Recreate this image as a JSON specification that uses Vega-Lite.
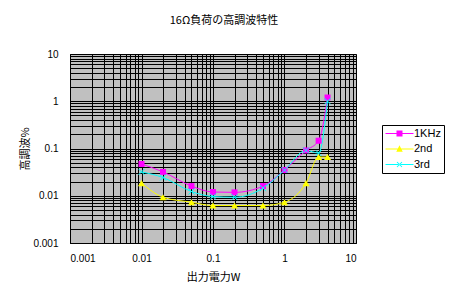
{
  "$schema": "https://vega.github.io/schema/vega-lite/v6.json",
  "width": 286,
  "height": 189,
  "autosize": {"type": "none"},
  "padding": {"left": 70, "top": 54, "right": 99, "bottom": 61},
  "background": "white",
  "config": {
    "view": {"fill": "#C0C0C0", "stroke": "#808080", "strokeWidth": 1},
    "font": "Liberation Sans",
    "axis": {
      "labelFont": "Liberation Sans",
      "labelFontSize": 10,
      "labelColor": "black",
      "titleFont": "Noto Sans CJK JP",
      "titleFontSize": 11,
      "titleFontWeight": "normal",
      "titleColor": "black",
      "domainColor": "black",
      "domainWidth": 1,
      "gridColor": "black",
      "gridOpacity": 1,
      "gridWidth": 1,
      "ticks": false,
      "labelOverlap": false
    },
    "legend": {
      "padding": 3,
      "strokeColor": "black",
      "fillColor": "white",
      "symbolSize": 100,
      "symbolStrokeWidth": 0,
      "symbolOpacity": 1,
      "symbolOffset": 9,
      "labelOffset": 9,
      "labelFont": "Liberation Sans",
      "labelFontSize": 11,
      "labelColor": "black",
      "rowPadding": 3.5
    }
  },
  "title": {
    "text": "16Ω負荷の高調波特性",
    "font": "Noto Sans CJK JP",
    "fontSize": 11,
    "fontWeight": "normal",
    "color": "black",
    "anchor": "middle",
    "offset": 23,
    "dx": 11
  },
  "data": {
    "values": [
      {"series": "1KHz", "x": 0.01, "y": 0.047},
      {"series": "1KHz", "x": 0.02, "y": 0.032},
      {"series": "1KHz", "x": 0.05, "y": 0.016},
      {"series": "1KHz", "x": 0.1, "y": 0.012},
      {"series": "1KHz", "x": 0.2, "y": 0.0118},
      {"series": "1KHz", "x": 0.5, "y": 0.016},
      {"series": "1KHz", "x": 1, "y": 0.035},
      {"series": "1KHz", "x": 2, "y": 0.091},
      {"series": "1KHz", "x": 3, "y": 0.146},
      {"series": "1KHz", "x": 4, "y": 1.2},
      {"series": "2nd", "x": 0.01, "y": 0.0185},
      {"series": "2nd", "x": 0.02, "y": 0.0093},
      {"series": "2nd", "x": 0.05, "y": 0.0073},
      {"series": "2nd", "x": 0.1, "y": 0.0062},
      {"series": "2nd", "x": 0.2, "y": 0.0062},
      {"series": "2nd", "x": 0.5, "y": 0.0062},
      {"series": "2nd", "x": 1, "y": 0.0073},
      {"series": "2nd", "x": 2, "y": 0.0185},
      {"series": "2nd", "x": 3, "y": 0.066},
      {"series": "2nd", "x": 4, "y": 0.066},
      {"series": "3rd", "x": 0.01, "y": 0.032},
      {"series": "3rd", "x": 0.02, "y": 0.0243},
      {"series": "3rd", "x": 0.05, "y": 0.0123},
      {"series": "3rd", "x": 0.1, "y": 0.0096},
      {"series": "3rd", "x": 0.2, "y": 0.0093},
      {"series": "3rd", "x": 0.5, "y": 0.0145},
      {"series": "3rd", "x": 1, "y": 0.035},
      {"series": "3rd", "x": 2, "y": 0.091},
      {"series": "3rd", "x": 3, "y": 0.08},
      {"series": "3rd", "x": 4, "y": 1.0}
    ]
  },
  "encoding": {
    "x": {
      "field": "x",
      "type": "quantitative",
      "scale": {"type": "log", "domain": [0.001, 10], "nice": false},
      "axis": {
        "title": "出力電力W",
        "values": [0.001,0.002,0.003,0.004,0.005,0.006,0.007,0.008,0.009,0.01,0.02,0.03,0.04,0.05,0.06,0.07,0.08,0.09,0.1,0.2,0.3,0.4,0.5,0.6,0.7,0.8,0.9,1,2,3,4,5,6,7,8,9,10],
        "format": "~g",
        "labelExpr": "indexof([0.001,0.01,0.1,1,10], datum.value) >= 0 ? datum.label : ''",
        "labelPadding": 10,
        "titlePadding": 8
      }
    },
    "y": {
      "field": "y",
      "type": "quantitative",
      "scale": {"type": "log", "domain": [0.001, 10], "nice": false},
      "axis": {
        "title": "高調波%",
        "values": [0.001,0.002,0.003,0.004,0.005,0.006,0.007,0.008,0.009,0.01,0.02,0.03,0.04,0.05,0.06,0.07,0.08,0.09,0.1,0.2,0.3,0.4,0.5,0.6,0.7,0.8,0.9,1,2,3,4,5,6,7,8,9,10],
        "format": "~g",
        "labelExpr": "indexof([0.001,0.01,0.1,1,10], datum.value) >= 0 ? datum.label : ''",
        "labelPadding": 12,
        "titlePadding": 2
      }
    },
    "color": {
      "field": "series",
      "type": "nominal",
      "scale": {"domain": ["1KHz", "2nd", "3rd"], "range": ["#FF00FF", "#FFFF00", "#00FFFF"]},
      "legend": {"orient": "none", "legendX": 312, "legendY": 71, "title": null}
    }
  },
  "layer": [
    {
      "mark": {"type": "line", "interpolate": "monotone", "strokeWidth": 1},
      "encoding": {"detail": {"field": "series"}, "order": {"field": "x", "type": "quantitative"}}
    },
    {
      "transform": [{"filter": "datum.series === '1KHz'"}],
      "mark": {"type": "point", "filled": true, "opacity": 1, "size": 36, "shape": "square"}
    },
    {
      "transform": [{"filter": "datum.series === '2nd'"}],
      "mark": {"type": "point", "filled": true, "opacity": 1, "size": 50, "shape": "triangle-up"}
    },
    {
      "transform": [{"filter": "datum.series === '3rd'"}],
      "mark": {"type": "point", "filled": false, "opacity": 1, "size": 36, "strokeWidth": 1, "shape": "M-1,-1L1,1M-1,1L1,-1"}
    },
    {
      "transform": [{"filter": "datum.x > 100"}],
      "mark": {"type": "point", "filled": true, "opacity": 1},
      "encoding": {
        "shape": {
          "field": "series",
          "type": "nominal",
          "scale": {
            "domain": ["1KHz", "2nd", "3rd"],
            "range": [
              "M-2.8,-0.1H2.8V0.1H-2.8ZM-0.6,-0.6H0.6V0.6H-0.6Z",
              "M-2.8,-0.1H2.8V0.1H-2.8ZM0,-0.75L0.65,0.55H-0.65Z",
              "M-2.8,-0.1H2.8V0.1H-2.8ZM-0.57,-0.43L0.43,0.57L0.57,0.43L-0.43,-0.57ZM-0.57,0.43L-0.43,0.57L0.57,-0.43L0.43,-0.57Z"
            ]
          },
          "legend": {"orient": "none", "legendX": 312, "legendY": 71, "title": null}
        }
      }
    }
  ]
}
